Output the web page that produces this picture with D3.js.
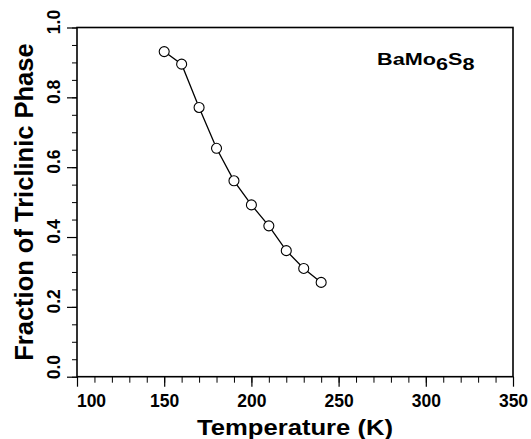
<!DOCTYPE html>
<html><head><meta charset="utf-8">
<script src="https://cdn.jsdelivr.net/npm/d3@7"></script>
<style>body{margin:0;background:#fff}svg{display:block}text{font-family:"Liberation Sans",Arial,Helvetica,sans-serif;font-weight:bold;fill:#000}</style>
</head><body>
<svg id="c" width="531" height="439"></svg>
<script>
const temperature = [150,160,170,180,190,200,210,220,230,240];
const fraction = [0.931,0.895,0.771,0.654,0.561,0.492,0.432,0.361,0.310,0.270];
const xTicks = [100,150,200,250,300,350];
const yTicks = [0.0,0.2,0.4,0.6,0.8,1.0];
const xLabel = "Temperature (K)";
const yLabel = "Fraction of Triclinic Phase";

const svg = d3.select("#c");
const m = {l:77,r:513,t:27.5,b:376.7};
const x = d3.scaleLinear().domain([100,350]).range([m.l,m.r]);
const y = d3.scaleLinear().domain([0,1]).range([m.b,m.t]);
const FF = '"Liberation Sans",Arial,sans-serif';

// minor ticks
svg.append("g").attr("transform",`translate(0,${m.b})`)
  .call(d3.axisBottom(x).tickValues(d3.range(100,351,10)).tickSize(6).tickFormat(""))
  .call(g=>g.select(".domain").remove())
  .selectAll("line").attr("stroke","#000").attr("stroke-width",1);
svg.append("g").attr("transform",`translate(${m.l},0)`)
  .call(d3.axisLeft(y).tickValues(d3.range(0,1.001,0.05)).tickSize(5).tickFormat(""))
  .call(g=>g.select(".domain").remove())
  .selectAll("line").attr("stroke","#000").attr("stroke-width",1);

// major x
const gx = svg.append("g").attr("transform",`translate(0,${m.b})`)
  .call(d3.axisBottom(x).tickValues(xTicks).tickSize(10).tickPadding(8).tickFormat(d3.format("d")));
gx.select(".domain").remove();
gx.selectAll("line").attr("stroke","#000").attr("stroke-width",1.2);
gx.selectAll("text").attr("font-size",17.5).attr("fill","#000")
  .attr("font-family",FF).attr("font-weight","bold")
  .attr("dx",(d,i)=>i===0?14:0);

// major y
const gy = svg.append("g").attr("transform",`translate(${m.l},0)`)
  .call(d3.axisLeft(y).tickValues(yTicks).tickSize(10).tickFormat(d3.format(".1f")));
gy.select(".domain").remove();
gy.selectAll("line").attr("stroke","#000").attr("stroke-width",1.2);
gy.selectAll("text")
  .attr("dy",null)
  .attr("transform","translate(-17,0) rotate(-90)")
  .attr("text-anchor","middle")
  .attr("x",(d,i)=>i===0?10:6)
  .attr("y",0)
  .attr("font-size",17.5).attr("fill","#000")
  .attr("font-family",FF).attr("font-weight","bold");

// frame
svg.append("rect").attr("x",m.l).attr("y",m.t).attr("width",m.r-m.l).attr("height",m.b-m.t)
  .attr("fill","none").attr("stroke","#000").attr("stroke-width",1.6);

// data
const pts = temperature.map((t,i)=>[t,fraction[i]]);
svg.append("path").datum(pts)
  .attr("d",d3.line().x(d=>x(d[0])).y(d=>y(d[1])))
  .attr("fill","none").attr("stroke","#000").attr("stroke-width",1.3);
svg.selectAll("circle.p").data(pts).join("circle")
  .attr("cx",d=>x(d[0])).attr("cy",d=>y(d[1])).attr("r",5)
  .attr("fill","#fff").attr("stroke","#000").attr("stroke-width",1.1);

// axis titles
svg.append("text").attr("x",(m.l+m.r)/2).attr("y",434.5).attr("text-anchor","middle")
  .attr("font-size",22).attr("textLength",196).attr("lengthAdjust","spacingAndGlyphs").text(xLabel);
svg.append("text").attr("transform",`translate(33,${(m.t+m.b)/2}) rotate(-90)`)
  .attr("text-anchor","middle").attr("font-size",25.5).text(yLabel);

// compound label
const lab = svg.append("text").attr("transform","translate(377,65) scale(1.33,1)").attr("font-size",16.3);
lab.append("tspan").text("BaMo");
lab.append("tspan").attr("dy",5).text("6");
lab.append("tspan").attr("dy",-5).text("S");
lab.append("tspan").attr("dy",5).text("8");
</script>
</body></html>
